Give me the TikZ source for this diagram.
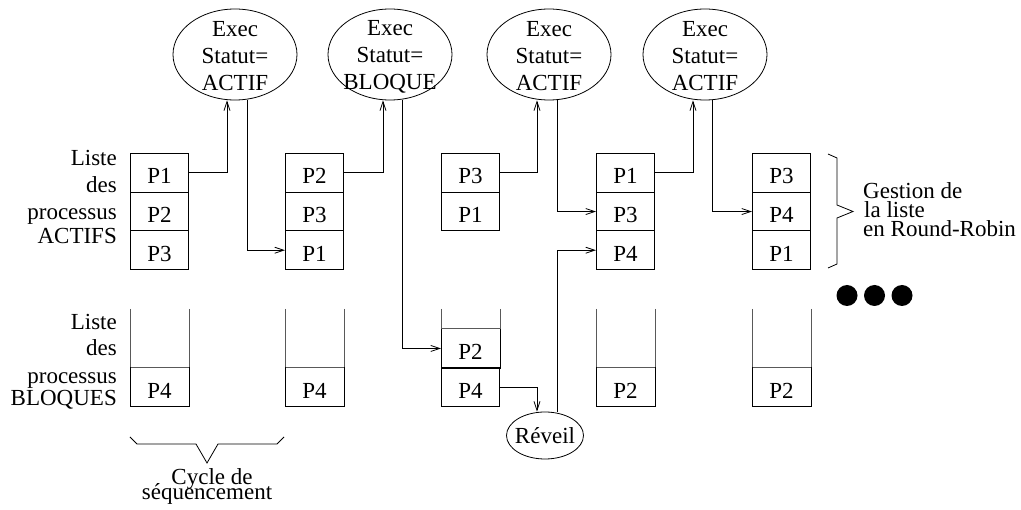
\documentclass[tikz,border=0pt]{standalone}
\usepackage{fontspec}
\setmainfont{Liberation Serif}
\usetikzlibrary{arrows.meta,shapes.geometric,calc}
\newcommand\myfs{\fontsize{23pt}{27pt}\selectfont}
\begin{document}
\begin{tikzpicture}[x=1pt,y=-1pt,
  cell/.style={draw, line width=1pt, rectangle, minimum width=58pt, minimum height=38.7pt,
    inner sep=0pt, anchor=north west, text height=22pt, text depth=0pt, font=\myfs},
  opencell/.style={cell, draw=none},
  cellline/.style={line width=1pt},
  side/.style={line width=0.9pt, draw=black!65},
  ell/.style={draw, line width=0.8pt, ellipse, minimum width=124pt, minimum height=91pt, inner sep=0pt},
  etext/.style={align=center, font=\myfs, inner sep=0pt},
  lbl/.style={font=\myfs, inner sep=0pt},
  arr/.style={line width=0.8pt, -{Straight Barb[length=9pt,width=6pt]}},
  brace/.style={line width=0.8pt},
  dot/.style={fill=black},
]
\useasboundingbox (0,0) rectangle (1021,510);

% ellipses
\node[ell] (ex1) at (235,54.5) {};
\node[ell] (ex2) at (390,54.5) {};
\node[ell] (ex3) at (549,54.5) {};
\node[ell] (ex4) at (705,54.5) {};
\node[etext] (t1) at ([yshift=-2pt]ex1.center) {Exec\\Statut=\\ACTIF};
\node[etext] (t2) at ([yshift=-2pt]ex2.center) {Exec\\Statut=\\BLOQUE};
\node[etext] (t3) at ([yshift=-2pt]ex3.center) {Exec\\Statut=\\ACTIF};
\node[etext] (t4) at ([yshift=-2pt]ex4.center) {Exec\\Statut=\\ACTIF};

% active lists
\node[cell] (a1) at (130,153) {P1};
\node[cell] (a2) at (130,191.7) {P2};
\node[cell] (a3) at (130,230.4) {P3};
\node[cell] (b1) at (285,153) {P2};
\node[cell] (b2) at (285,191.7) {P3};
\node[cell] (b3) at (285,230.4) {P1};
\node[cell] (c1) at (441,153) {P3};
\node[cell] (c2) at (441,191.7) {P1};
\node[cell] (d1) at (596,153) {P1};
\node[cell] (d2) at (596,191.7) {P3};
\node[cell] (d3) at (596,230.4) {P4};
\node[cell] (f1) at (752,153) {P3};
\node[cell] (f2) at (752,191.7) {P4};
\node[cell] (f3) at (752,230.4) {P1};

% blocked lists
\coordinate (otop) at (0,309);
\node[opencell] (ab) at (130,367.3) {P4};
\node[opencell] (bb) at (285,367.3) {P4};
\node[opencell] (cbt) at (441,328.6) {P2};
\node[cell] (cbb) at (441,367.3) {P4};
\node[opencell] (db) at (596,367.3) {P2};
\node[opencell] (fb) at (752,367.3) {P2};
\foreach \c in {ab,bb,cbt,db,fb}{
  \draw[side] (\c.north west |- otop) -- (\c.north west);
  \draw[side] (\c.north east |- otop) -- (\c.north east);
  \draw[side] (\c.north west) -- (\c.north east);
  \draw[cellline] (\c.north west) -- (\c.south west) -- (\c.south east) -- (\c.north east);
}

% Reveil
\node[draw, ellipse, line width=0.8pt, minimum width=77pt, minimum height=47pt,
  inner xsep=-4pt, inner ysep=0pt, font=\myfs] (rv) at (545,435.5) {Réveil};

% connectors
\draw[arr] (a1.east) -| ([xshift=-8pt]ex1.south);
\draw[arr] ([xshift=12pt]ex1.south) |- (b3.west);
\draw[arr] (b1.east) -| ([xshift=-7pt]ex2.south);
\draw[arr] ([xshift=12pt]ex2.south) |- (cbt.west);
\draw[arr] (c1.east) -| ([xshift=-12pt]ex3.south);
\draw[arr] ([xshift=8pt]ex3.south) |- (d2.west);
\draw[arr] (d1.east) -| ([xshift=-12pt]ex4.south);
\draw[arr] ([xshift=7pt]ex4.south) |- (f2.west);
\draw[arr] (cbb.east) -| ([xshift=-8pt]rv.north);
\draw[arr] ([xshift=12pt]rv.north) |- (d3.west);

% left labels
\node[lbl, anchor=base east] (la1) at (117,165.5) {Liste};
\node[lbl, anchor=base east] (la2) at (117,192.5) {des};
\node[lbl, anchor=base east] (la3) at (117,220) {processus};
\node[lbl, anchor=base east] (la4) at (117,244) {ACTIFS};
\node[lbl, anchor=base east] (lb1) at (117,330) {Liste};
\node[lbl, anchor=base east] (lb2) at (117,356) {des};
\node[lbl, anchor=base east] (lb3) at (117,384) {processus};
\node[lbl, anchor=base east] (lb4) at (117,406) {BLOQUES};

% right brace and text
\draw[brace] (828,154) -- (837,158) -- (837,205) -- (853,211.5) -- (837,218) -- (837,264) -- (828,268);
\node[lbl, anchor=base west] (g1) at (863,199) {Gestion de};
\node[lbl, anchor=base west] (g2) at (864,217.5) {la liste};
\node[lbl, anchor=base west] (g3) at (863,236.5) {en Round-Robin};

% dots
\fill[dot] (847,295.5) circle[radius=10.5pt];
\fill[dot] (874.5,295.5) circle[radius=10.5pt];
\fill[dot] (902,295.5) circle[radius=10.5pt];

% bottom brace
\draw[brace] (130,437) -- (137,444) -- (196,444) -- (207,463) -- (218,444) -- (277,444) -- (284,437);
\node[lbl, anchor=base] (cy1) at (212,485) {Cycle de};
\node[lbl, anchor=base] (cy2) at (207,500) {séquencement};
\end{tikzpicture}
\end{document}
